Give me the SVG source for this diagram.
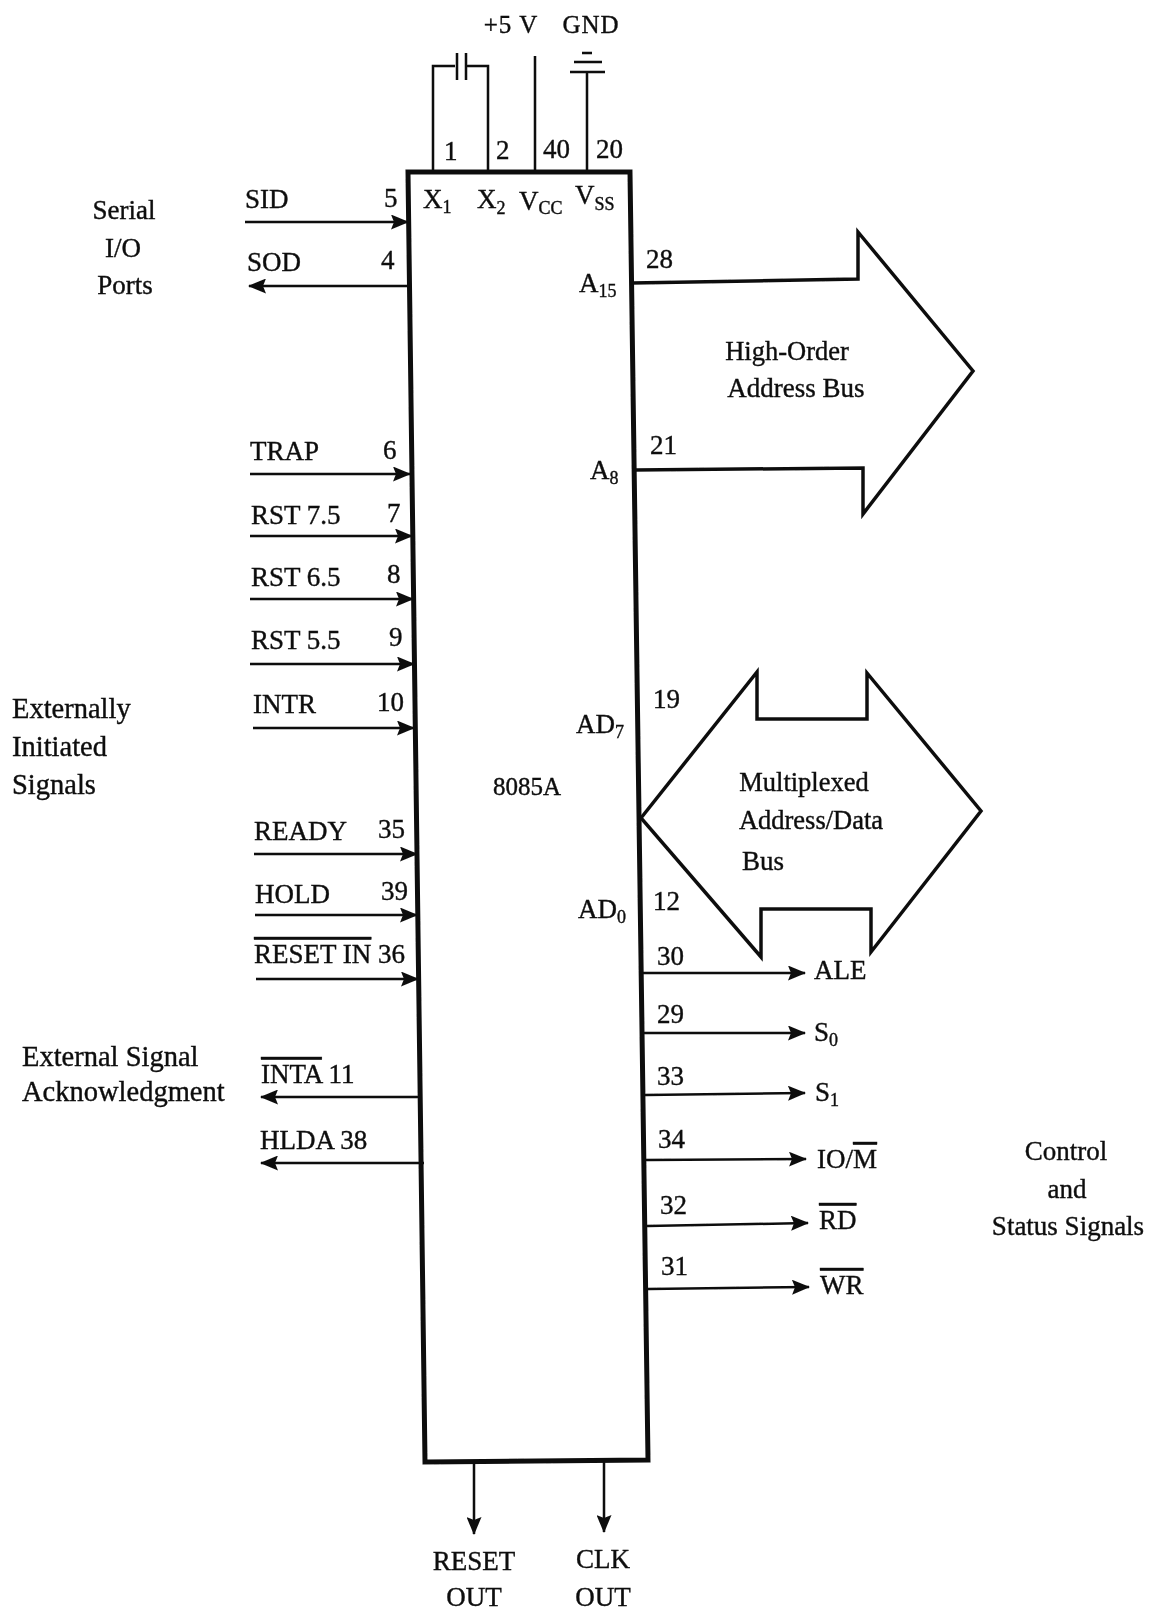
<svg xmlns="http://www.w3.org/2000/svg" width="1155" height="1614" viewBox="0 0 1155 1614">
<style>
text{font-family:"Liberation Serif","Times New Roman",serif;font-size:27px;fill:#111;stroke:#111;stroke-width:.4}
.c{text-anchor:middle}
.s{font-size:18px}
.o{text-decoration:overline}
.g{font-size:28.5px}
.t{font-size:25px;letter-spacing:1px}
.w{fill:none;stroke:#111;stroke-width:2.5}
.b{fill:none;stroke:#111;stroke-width:5}
.h{fill:none;stroke:#111;stroke-width:3.5;stroke-linejoin:miter}
</style>
<defs>
<marker id="a" viewBox="0 0 18 15" refX="17" refY="7.5" markerWidth="18" markerHeight="15" markerUnits="userSpaceOnUse" orient="auto"><path d="M0 0L18 7.5L0 15L3 7.5Z" fill="#111"/></marker>
<filter id="soft" x="0" y="0" width="100%" height="100%"><feGaussianBlur stdDeviation="0.6"/></filter>
</defs>
<rect width="1155" height="1614" fill="#fff"/>
<g filter="url(#soft)">
<g id="connectors">
<path class="w" d="M245 222H408" marker-end="url(#a)"/>
<path class="w" d="M408 286H249" marker-end="url(#a)"/>
<path class="w" d="M250 474H410" marker-end="url(#a)"/>
<path class="w" d="M250 536H412" marker-end="url(#a)"/>
<path class="w" d="M250 599H413" marker-end="url(#a)"/>
<path class="w" d="M250 664H414" marker-end="url(#a)"/>
<path class="w" d="M253 728H414" marker-end="url(#a)"/>
<path class="w" d="M254 854H417" marker-end="url(#a)"/>
<path class="w" d="M255 915H417" marker-end="url(#a)"/>
<path class="w" d="M256 979H418" marker-end="url(#a)"/>
<path class="w" d="M422 1097H261" marker-end="url(#a)"/>
<path class="w" d="M424 1163H261" marker-end="url(#a)"/>
<path class="w" d="M643 973H805" marker-end="url(#a)"/>
<path class="w" d="M644 1033H805" marker-end="url(#a)"/>
<path class="w" d="M645 1095L805 1093" marker-end="url(#a)"/>
<path class="w" d="M646 1160L806 1159" marker-end="url(#a)"/>
<path class="w" d="M647 1226L808 1223" marker-end="url(#a)"/>
<path class="w" d="M648 1289L809 1287" marker-end="url(#a)"/>
<path class="w" d="M474 1462V1534" marker-end="url(#a)"/>
<path class="w" d="M604 1462V1532" marker-end="url(#a)"/>
<path class="w" d="M433 172V66H455M466 66H488V172M535 56V172M587 72V172"/>
<path class="w" d="M457 53V80M466 53V80M570 72H605M574 62H602M582 53H592"/>
</g>
<g id="chip">
<path class="b" d="M408 172H630L648 1460L425 1462Z"/>
<text class="c" x="527" y="795" style="font-size:25px">8085A</text>
<text x="423" y="208">X<tspan class="s" dy="5">1</tspan></text>
<text x="477" y="208">X<tspan class="s" dy="6">2</tspan></text>
<text x="519" y="210">V<tspan class="s" dy="4">CC</tspan></text>
<text x="575" y="204">V<tspan class="s" dy="6">SS</tspan></text>
<text x="579" y="292">A<tspan class="s" dy="5">15</tspan></text>
<text x="590" y="479">A<tspan class="s" dy="5">8</tspan></text>
<text x="576" y="733">AD<tspan class="s" dy="5">7</tspan></text>
<text x="578" y="918">AD<tspan class="s" dy="5">0</tspan></text>
</g>
<g id="pins-top">
<text x="444" y="160">1</text><text x="496" y="159">2</text><text x="543" y="158">40</text><text x="596" y="158">20</text>
<text class="c t" x="511" y="33">+5 V</text><text class="c t" x="591" y="33">GND</text>
</g>
<g id="pins-left">
<text x="245" y="208">SID</text><text x="384" y="207">5</text>
<text x="247" y="271">SOD</text><text x="381" y="269">4</text>
<text x="250" y="460">TRAP</text><text x="383" y="459">6</text>
<text x="251" y="524">RST 7.5</text><text x="387" y="522">7</text>
<text x="251" y="586">RST 6.5</text><text x="387" y="583">8</text>
<text x="251" y="649">RST 5.5</text><text x="389" y="646">9</text>
<text x="253" y="713">INTR</text><text x="377" y="711">10</text>
<text x="254" y="840">READY</text><text x="378" y="838">35</text>
<text x="255" y="903">HOLD</text><text x="381" y="900">39</text>
<text x="254" y="963" class="o">RESET IN</text><text x="378" y="963">36</text>
<text x="261" y="1083"><tspan class="o">INTA</tspan> 11</text>
<text x="260" y="1149">HLDA 38</text>
</g>
<g id="pins-right">
<text x="646" y="268">28</text><text x="650" y="454">21</text>
<text x="653" y="708">19</text><text x="653" y="910">12</text>
<text x="657" y="965">30</text><text x="657" y="1023">29</text>
<text x="657" y="1085">33</text><text x="658" y="1148">34</text>
<text x="660" y="1214">32</text><text x="661" y="1275">31</text>
<text x="814" y="979">ALE</text>
<text x="814" y="1041">S<tspan class="s" dy="5">0</tspan></text>
<text x="815" y="1101">S<tspan class="s" dy="5">1</tspan></text>
<text x="817" y="1168">IO/<tspan class="o">M</tspan></text>
<text x="819" y="1229" class="o">RD</text>
<text x="820" y="1294" class="o">WR</text>
</g>
<g id="address-bus">
<path class="h" d="M632 283L858 279V232L973 371L863 514V468L635 470"/>
<text class="c" x="787" y="360" style="font-size:26.5px">High-Order</text>
<text class="c" x="796" y="397">Address Bus</text>
</g>
<g id="data-bus">
<path class="h" d="M641 818L757 672V719H867V673L981 811L871 952V909H761V957Z"/>
<text class="c" x="804" y="791" style="font-size:26.5px">Multiplexed</text>
<text class="c" x="811" y="829" style="font-size:26.5px">Address/Data</text>
<text x="742" y="870">Bus</text>
</g>
<g id="groups">
<text class="c" x="124" y="219">Serial</text><text class="c" x="123" y="257">I/O</text><text class="c" x="125" y="294">Ports</text>
<text class="g" x="12" y="718">Externally</text><text class="g" x="12" y="756">Initiated</text><text class="g" x="12" y="794">Signals</text>
<text class="g" x="22" y="1066">External Signal</text><text class="g" x="22" y="1101">Acknowledgment</text>
<text class="c" x="1066" y="1160">Control</text><text class="c" x="1067" y="1198">and</text><text class="c" x="1068" y="1235">Status Signals</text>
<text class="c" x="474" y="1570">RESET</text><text class="c" x="474" y="1606">OUT</text>
<text class="c" x="603" y="1568">CLK</text><text class="c" x="603" y="1606">OUT</text>
</g>
</g>
</svg>
